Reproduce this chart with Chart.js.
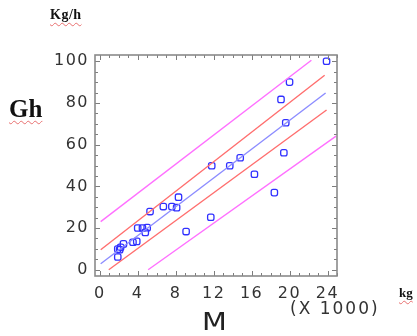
<!DOCTYPE html>
<html>
<head>
<meta charset="utf-8">
<script src="https://cdn.jsdelivr.net/npm/chart.js@4"></script>
<style>
  html,body{margin:0;padding:0;background:#fff;}
  #wrap{position:relative;width:417px;height:336px;overflow:hidden;}
  canvas{position:absolute;left:0;top:0;}
  .lbl{position:absolute;white-space:nowrap;}
  .serif{font-family:"Liberation Serif","DejaVu Serif",serif;font-weight:bold;color:#111;
         text-decoration:underline wavy #e87070;text-decoration-thickness:1px;text-underline-offset:3px;}
  .sans{font-family:"DejaVu Sans","Liberation Sans",sans-serif;color:#333;}
</style>
</head>
<body>
<div id="wrap">
  <canvas id="c" width="417" height="336"></canvas>
  <div class="lbl serif" style="left:50px;top:7px;font-size:14px;letter-spacing:0.5px;">Kg/h</div>
  <div class="lbl serif" style="left:9px;top:95px;font-size:25px;">Gh</div>
  <div class="lbl serif" style="left:399px;top:285px;font-size:13px;">kg</div>
  <div class="lbl sans" style="left:290px;top:298px;font-size:17px;letter-spacing:2px;">(X 1000)</div>
  <div class="lbl sans" style="left:202px;top:307px;font-size:25px;color:#222;transform:scaleX(1.15);transform-origin:left top;">M</div>
</div>
<script>
// ---- data ----
const massX = [1.9, 1.9, 2.1, 2.2, 2.5, 3.5, 3.9, 4.0, 4.5, 5.0, 4.8, 5.3, 6.7, 7.6, 8.1, 8.3, 9.1, 11.7, 11.8, 13.7, 14.8, 16.3, 18.4, 19.4, 19.6, 19.1, 20.0, 23.9];
const ghY   = [6.1, 9.9, 9.6, 10.8, 12.4, 13.2, 13.6, 20.0, 20.0, 20.2, 17.9, 27.9, 30.3, 30.3, 29.8, 34.8, 18.3, 25.2, 49.9, 49.9, 53.7, 45.8, 37.0, 56.1, 70.5, 81.7, 90.0, 100.0];

const fitX        = [0.1, 23.8];
const fitY        = [2.9, 84.8];
const confUpperX  = [0.1, 23.7];
const confUpperY  = [9.6, 93.3];
const confLowerX  = [0.95, 23.9];
const confLowerY  = [0.0, 76.6];
const predUpperX  = [0.1, 22.3];
const predUpperY  = [23.1, 100.5];
const predLowerX  = [5.1, 24.9];
const predLowerY  = [0.0, 64.1];

const xTickLabels = [0, 4, 8, 12, 16, 20, 24];
const yTickLabels = [0, 20, 40, 60, 80, 100];
const xMinorTicks = Array.from({length: 26}, (_, i) => i);        // 0..25 every 1
const yMinorTicks = Array.from({length: 21}, (_, i) => i * 5);    // 0..100 every 5

const pts = (xs, ys) => xs.map((x, i) => ({x, y: ys[i]}));

const lineDs = (xs, ys, color) => ({
  type: 'line', data: pts(xs, ys), borderColor: color, borderWidth: 1.4,
  pointRadius: 0, fill: false, tension: 0
});

const spacingPlugin = {
  id: 'spacing',
  beforeDraw(chart) { chart.ctx.letterSpacing = '1.5px'; },
  afterDraw(chart) { chart.ctx.letterSpacing = '0px'; }
};

const boxPlugin = {
  id: 'boxTicks',
  afterDatasetsDraw(chart) {
    const {ctx, chartArea: {left, right, top, bottom}, scales: {x, y}} = chart;
    ctx.save();
    ctx.strokeStyle = '#7d7d7d';
    ctx.lineWidth = 1;
    ctx.beginPath();
    xMinorTicks.forEach(v => {
      const px = Math.round(x.getPixelForValue(v)) + 0.5;
      const len = (v % 4 === 0) ? 5 : 3;
      ctx.moveTo(px, bottom); ctx.lineTo(px, bottom - len);
      ctx.moveTo(px, top); ctx.lineTo(px, top + len);
    });
    yMinorTicks.forEach(v => {
      const py = Math.round(y.getPixelForValue(v)) + 0.5;
      const len = (v % 20 === 0) ? 5 : 3;
      ctx.moveTo(left, py); ctx.lineTo(left + len, py);
      ctx.moveTo(right, py); ctx.lineTo(right - len, py);
    });
    ctx.stroke();
    ctx.strokeStyle = '#8a8a8a';
    ctx.lineWidth = 1.6;
    ctx.strokeRect(left, top, right - left, bottom - top);
    ctx.restore();
  }
};

const tickFont = {family: '"DejaVu Sans", "Liberation Sans", sans-serif', size: 16};

new Chart(document.getElementById('c'), {
  type: 'scatter',
  data: {
    datasets: [
      lineDs(predUpperX, predUpperY, '#ff70ff'),
      lineDs(predLowerX, predLowerY, '#ff70ff'),
      lineDs(confUpperX, confUpperY, '#ff6e6e'),
      lineDs(confLowerX, confLowerY, '#ff6e6e'),
      lineDs(fitX, fitY, '#8c8cff'),
      {
        type: 'scatter', data: pts(massX, ghY),
        pointStyle: 'rectRounded', pointRadius: 3.7, pointHoverRadius: 3.7,
        borderColor: '#3030ff', backgroundColor: 'rgba(255,255,255,0)', borderWidth: 1.3
      }
    ]
  },
  options: {
    responsive: false, animation: false, devicePixelRatio: 1,
    layout: {padding: {left: 0, top: 55, right: 80, bottom: 0}},
    plugins: {legend: {display: false}, tooltip: {enabled: false}},
    scales: {
      x: {
        type: 'linear', min: -0.5, max: 25,
        grid: {display: false, drawTicks: false}, border: {display: false},
        afterBuildTicks: s => { s.ticks = xTickLabels.map(v => ({value: v})); },
        afterFit: s => { s.height = 60; },
        ticks: {padding: 8, color: '#333', font: tickFont, maxRotation: 0, autoSkip: false}
      },
      y: {
        type: 'linear', min: -3, max: 103,
        grid: {display: false, drawTicks: false}, border: {display: false},
        afterBuildTicks: s => { s.ticks = yTickLabels.map(v => ({value: v})); },
        afterFit: s => { s.width = 95; },
        ticks: {padding: 6, color: '#333', font: tickFont, autoSkip: false}
      }
    }
  },
  plugins: [spacingPlugin, boxPlugin]
});
</script>
</body>
</html>
